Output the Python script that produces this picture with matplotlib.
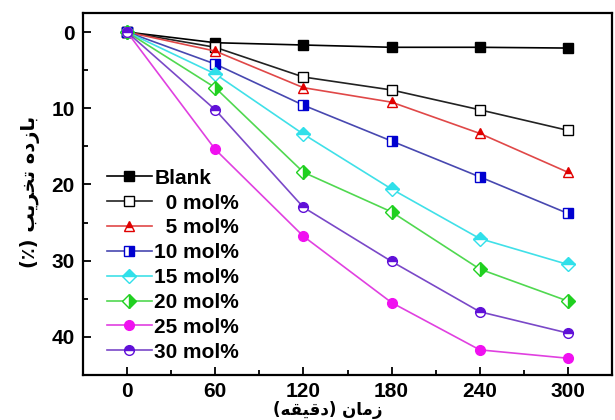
import numpy as np
import matplotlib.pyplot as plt
from matplotlib.ticker import MultipleLocator

# time (min)
time = [0, 60, 120, 180, 240, 300]

# degradation (%)
blank = [0, 1.4, 1.7, 2.0, 2.0, 2.1]
mol0 = [0, 2.0, 5.9, 7.6, 10.2, 12.9]
mol5 = [0, 2.5, 7.3, 9.2, 13.3, 18.4]
mol10 = [0, 4.2, 9.6, 14.3, 19.0, 23.8]
mol15 = [0, 5.5, 13.4, 20.6, 27.1, 30.5]
mol20 = [0, 7.3, 18.4, 23.6, 31.1, 35.3]
mol25 = [0, 15.4, 26.8, 35.5, 41.7, 42.8]
mol30 = [0, 10.2, 23.0, 30.1, 36.7, 39.5]

labels = ["Blank", "\u20070 mol%", "\u20075 mol%", "10 mol%",
          "15 mol%", "20 mol%", "25 mol%", "30 mol%"]

# presentation forms, visual order (matplotlib does no arabic shaping)
xlabel = "(\ufeea\ufed8\ufef4\ufed7\ufea9) \ufee5\ufe8e\ufee3\ufeaf"
ylabel = "(\u066a) \ufe90\ufef3\ufeae\ufea8\ufe97 \ufee9\ufea9\ufeaf\ufe8e\ufe91"

series = [blank, mol0, mol5, mol10, mol15, mol20, mol25, mol30]
styles = [
    dict(color="black", marker="s", mfc="black", mec="black", fillstyle="full"),
    dict(color="#222222", marker="s", mfc="white", mec="black", fillstyle="full"),
    dict(color="#e04848", marker="^", mfc="#e00000", mec="#e00000", fillstyle="top", mfcalt="white"),
    dict(color="#4848b0", marker="s", mfc="#0000d0", mec="#0000d0", fillstyle="right", mfcalt="white"),
    dict(color="#40e0e8", marker="D", mfc="#30e0ea", mec="#30e0ea", fillstyle="top", mfcalt="white"),
    dict(color="#50d850", marker="D", mfc="#20d020", mec="#20d020", fillstyle="right", mfcalt="white"),
    dict(color="#e040e0", marker="o", mfc="#f010f0", mec="#f010f0", fillstyle="full"),
    dict(color="#7a48c8", marker="o", mfc="#6010d8", mec="#6010d8", fillstyle="top", mfcalt="white"),
]

plt.rcParams["font.family"] = ["Liberation Sans", "DejaVu Sans"]
plt.rcParams["font.weight"] = "bold"

fig = plt.figure(figsize=(6.15, 4.2), dpi=100)
ax = fig.add_axes([83 / 615, 45 / 420, 529 / 615, 362 / 420])

for vals, lab, st in zip(series, labels, styles):
    ax.plot(time, vals, label=lab, lw=1.2, ms=7, mew=1.0,
            color=st["color"], marker=st["marker"], markerfacecolor=st["mfc"],
            markeredgecolor=st["mec"], fillstyle=st["fillstyle"],
            markerfacecoloralt=st.get("mfcalt", "none"))

ax.set_xlim(-30, 330)
ax.set_ylim(45, -2.5)
ax.set_xticks(time)
ax.set_yticks([0, 10, 20, 30, 40])
ax.xaxis.set_minor_locator(MultipleLocator(30))
ax.yaxis.set_minor_locator(MultipleLocator(5))
ax.tick_params(which="both", direction="in", labelsize=15, width=1.3)
ax.tick_params(which="major", length=6)
ax.tick_params(which="minor", length=3.5)
ax.tick_params(axis="x", pad=5)
ax.tick_params(axis="y", pad=6)
for lab in ax.get_xticklabels() + ax.get_yticklabels():
    lab.set_fontweight("bold")
for sp in ax.spines.values():
    sp.set_linewidth(1.6)

ax.legend(loc="upper left", bbox_to_anchor=(0.017, 0.61), frameon=False,
          prop=dict(size=15, weight="bold"), handlelength=2.2,
          handletextpad=0.1, labelspacing=0.28, borderaxespad=0.3)

fig.text(328 / 615, 1 / 420, xlabel, ha="center", va="bottom",
         fontsize=12, fontweight="bold", family=["DejaVu Sans"])
fig.text(30 / 615, 228 / 420, ylabel, ha="center", va="center", rotation=90,
         fontsize=14, fontweight="bold", family=["DejaVu Sans"])

fig.savefig("out.png", dpi=100)
